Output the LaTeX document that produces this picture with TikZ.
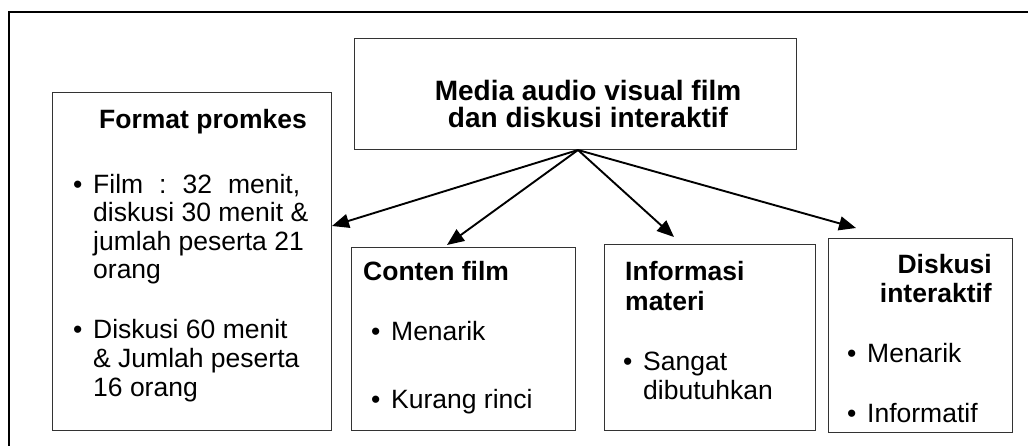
\documentclass[tikz,border=0pt]{standalone}
\usepackage{fontspec}
\setmainfont{Liberation Sans}
\usetikzlibrary{arrows.meta}
\newcommand\itemdot{\makebox[20pt][l]{\textbullet}}
\begin{document}
\begin{tikzpicture}[x=1pt,y=-1pt,
  box/.style={draw=black!80, line width=1.4pt, anchor=north west, inner sep=0pt},
  txt/.style={inner sep=0pt, anchor=base west, font=\fontsize{26.5}{28.5}\selectfont},
  head/.style={txt, font=\fontsize{26.5}{28.5}\selectfont\bfseries},
  title/.style={inner sep=0pt, anchor=base, font=\fontsize{28}{27}\selectfont\bfseries},
  link/.style={line width=1.9pt, -{Triangle[length=17pt,width=14pt]}},
  frame/.style={line width=2pt}]
\useasboundingbox (0,0) rectangle (1028,445);

% outer frame (only the top and left edges fall inside the page)
\draw[frame] (9,450) -- (9,12) -- (1035,12);

% boxes
\node[box, minimum width=442pt, minimum height=111pt] (top)  at (354,38)  {};
\node[box, minimum width=279pt, minimum height=338pt] (fmt)  at (52,92)   {};
\node[box, minimum width=224pt, minimum height=183pt] (cont) at (351,247) {};
\node[box, minimum width=211pt, minimum height=186pt] (info) at (604,244) {};
\node[box, minimum width=184pt, minimum height=194pt] (disk) at (828,238) {};

% title
\node[title] (top-1) at (588,100) {Media audio visual film};
\node[title] (top-2) at (588,127) {dan diskusi interaktif};

% Format promkes
\node[head] (fmt-h) at (99,128) {Format promkes};
\node[txt] (fmt-1) at (73,193)   {\itemdot\makebox[207pt][s]{Film\hfill:\hfill32\hfill menit,}};
\node[txt] (fmt-2) at (93,221.5) {diskusi 30 menit \&};
\node[txt] (fmt-3) at (93,250)   {jumlah peserta 21};
\node[txt] (fmt-4) at (93,278.5) {orang};
\node[txt] (fmt-5) at (73,338)   {\itemdot Diskusi 60 menit};
\node[txt] (fmt-6) at (93,367)   {\& Jumlah peserta};
\node[txt] (fmt-7) at (93,396)   {16 orang};

% Conten film
\node[head] (cont-h) at (363,280) {Conten film};
\node[txt] (cont-1) at (371,340)  {\itemdot Menarik};
\node[txt] (cont-2) at (371,408)  {\itemdot Kurang rinci};

% Informasi materi
\node[head] (info-h1) at (625,280) {Informasi};
\node[head] (info-h2) at (625,310) {materi};
\node[txt] (info-1) at (623,370)   {\itemdot Sangat};
\node[txt] (info-2) at (643,399)   {dibutuhkan};

% Diskusi interaktif
\node[head, anchor=base east] (disk-h1) at (992,273) {Diskusi};
\node[head, anchor=base east] (disk-h2) at (992,302) {interaktif};
\node[txt] (disk-1) at (847,362)   {\itemdot Menarik};
\node[txt] (disk-2) at (847,422)   {\itemdot Informatif};

% arrows from the title box
\coordinate (hub) at (578,150);
\coordinate (tip-fmt)  at (332,226);
\coordinate (tip-cont) at (447,245);
\coordinate (tip-info) at (674,237);
\coordinate (tip-disk) at (856,228);
\draw[link] (hub) -- (tip-fmt);
\draw[link] (hub) -- (tip-cont);
\draw[link] (hub) -- (tip-info);
\draw[link] (hub) -- (tip-disk);
\end{tikzpicture}
\end{document}
